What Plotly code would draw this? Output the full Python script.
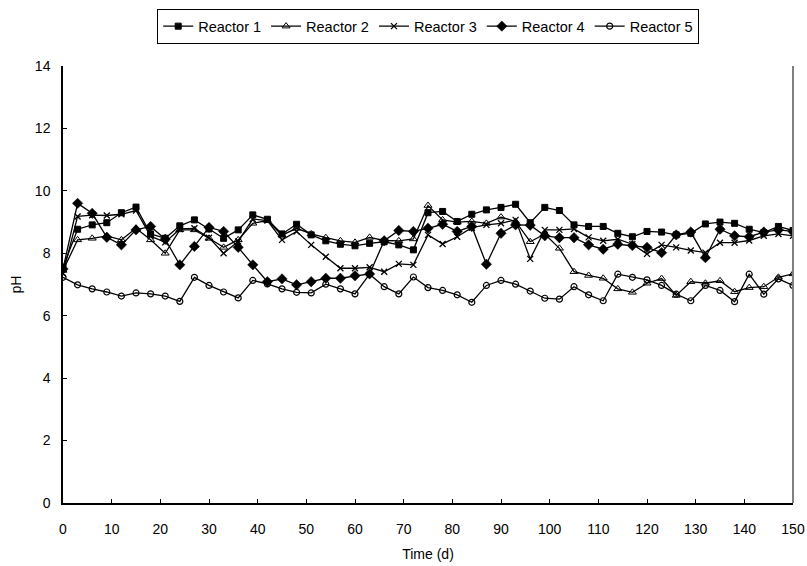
import plotly.graph_objects as go

days = list(range(0, 151, 3))

reactor1 = [7.55, 8.77, 8.91, 8.98, 9.30, 9.48, 8.62, 8.48, 8.88, 9.07, 8.78, 8.48, 8.75,
            9.23, 9.09, 8.62, 8.93, 8.59, 8.40, 8.29, 8.24, 8.32, 8.37, 8.27, 8.11,
            9.30, 9.34, 9.02, 9.25, 9.39, 9.47, 9.57, 8.98, 9.47, 9.37, 8.91, 8.86, 8.86,
            8.64, 8.53, 8.70, 8.68, 8.59, 8.64, 8.94, 9.00, 8.96, 8.77, 8.66, 8.86, 8.73]
reactor2 = [7.45, 8.43, 8.48, 8.56, 8.43, 8.80, 8.43, 8.00, 8.75, 8.75, 8.48, 8.19, 8.43,
            8.96, 9.05, 8.58, 8.80, 8.62, 8.50, 8.40, 8.35, 8.51, 8.41, 8.40, 8.46,
            9.53, 9.07, 9.00, 9.02, 8.96, 9.16, 9.02, 8.37, 8.62, 8.16, 7.41, 7.29, 7.20,
            6.86, 6.75, 7.04, 7.19, 6.65, 7.09, 7.04, 7.12, 6.77, 6.90, 6.93, 7.23, 7.34]
reactor3 = [7.35, 9.18, 9.22, 9.21, 9.25, 9.37, 8.55, 8.35, 8.78, 8.80, 8.50, 8.00, 8.38,
            9.10, 9.05, 8.43, 8.70, 8.27, 7.89, 7.52, 7.52, 7.55, 7.41, 7.66, 7.63,
            8.59, 8.30, 8.53, 8.82, 8.91, 8.96, 9.07, 7.82, 8.75, 8.75, 8.78, 8.51, 8.40,
            8.45, 8.29, 7.98, 8.27, 8.19, 8.09, 8.02, 8.34, 8.34, 8.41, 8.56, 8.62, 8.56]
reactor4 = [7.50, 9.60, 9.28, 8.51, 8.27, 8.75, 8.86, 8.45, 7.63, 8.22, 8.83, 8.70, 8.19,
            7.63, 7.09, 7.18, 6.99, 7.09, 7.20, 7.20, 7.28, 7.34, 8.40, 8.73, 8.70,
            8.80, 8.93, 8.70, 8.86, 7.65, 8.64, 8.91, 8.90, 8.56, 8.50, 8.50, 8.27, 8.13,
            8.29, 8.25, 8.19, 8.02, 8.59, 8.68, 7.86, 8.77, 8.56, 8.53, 8.68, 8.75, 8.70]
reactor5 = [7.23, 6.99, 6.86, 6.76, 6.63, 6.73, 6.70, 6.63, 6.46, 7.23, 6.97, 6.76, 6.57,
            7.13, 7.02, 6.86, 6.75, 6.73, 7.01, 6.86, 6.70, 7.33, 6.93, 6.70, 7.24,
            6.90, 6.81, 6.67, 6.43, 6.97, 7.13, 7.01, 6.79, 6.56, 6.53, 6.93, 6.67, 6.48,
            7.33, 7.23, 7.15, 6.97, 6.69, 6.48, 6.97, 6.81, 6.45, 7.33, 6.69, 7.18, 6.97]

series_names = ["Reactor 1", "Reactor 2", "Reactor 3", "Reactor 4", "Reactor 5"]
series_values = [reactor1, reactor2, reactor3, reactor4, reactor5]
x_ticks = list(range(0, 151, 10))
y_ticks = list(range(0, 15, 2))

markers = [
    dict(symbol="square", size=6, color="black", line=dict(color="black", width=1)),
    dict(symbol="triangle-up-open", size=7, color="black", line=dict(color="black", width=1)),
    dict(symbol="x-thin-open", size=6, color="black", line=dict(color="black", width=1.3)),
    dict(symbol="diamond", size=8, color="black", line=dict(color="black", width=0.5)),
    dict(symbol="circle-open", size=6, color="black", line=dict(color="black", width=1.2)),
]

fig = go.Figure()
for name, vals, mk in zip(series_names, series_values, markers):
    fig.add_trace(go.Scatter(
        x=days, y=vals, name=name, mode="lines+markers",
        line=dict(color="black", width=1.3), marker=mk,
    ))

fam = "Liberation Sans, Arial, sans-serif"
fig.update_layout(
    width=807, height=566,
    margin=dict(l=63, r=14, t=66, b=63, autoexpand=False),
    paper_bgcolor="white", plot_bgcolor="white",
    font=dict(family=fam, size=14, color="black"),
    showlegend=True,
    legend=dict(
        orientation="h", x=0.5, xanchor="center", y=1.0 + (66 - 9) / 437.0, yanchor="top",
        bordercolor="black", borderwidth=1.2, bgcolor="white",
        font=dict(family=fam, size=14.5, color="black"),
        itemwidth=30, tracegroupgap=0,
    ),
    xaxis=dict(
        range=[0, 150], tickvals=x_ticks, ticks="inside", ticklen=4, tickcolor="black",
        tickwidth=1.3, showline=True, linecolor="black", linewidth=1.5, showgrid=False,
        zeroline=False, ticklabelstandoff=12, automargin=False,
        title=dict(text="Time (d)", standoff=14, font=dict(size=14)),
        tickfont=dict(size=14),
    ),
    yaxis=dict(
        range=[0, 14], tickvals=y_ticks, ticks="inside", ticklen=4, tickcolor="black",
        tickwidth=1.3, showline=True, linecolor="black", linewidth=1.5, showgrid=False,
        zeroline=False, ticklabelstandoff=8, automargin=False,
        title=dict(text="pH", standoff=10, font=dict(size=14)),
        tickfont=dict(size=14),
    ),
    shapes=[dict(type="line", xref="paper", yref="paper", x0=1, x1=1, y0=0, y1=1,
                 line=dict(color="#808080", width=2))],
)

fig.write_html("out.html")
